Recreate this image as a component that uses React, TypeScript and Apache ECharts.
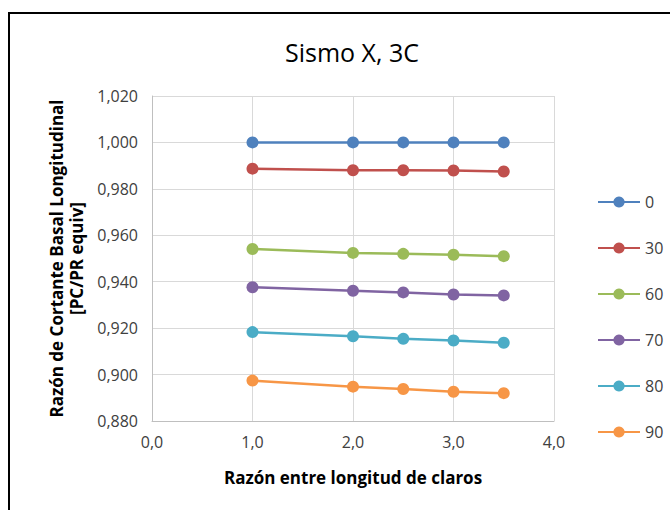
import React, { useEffect, useRef } from "react";
import * as echarts from "echarts";

// Razón entre longitud de claros (x positions)
const claros = [1.0, 2.0, 2.5, 3.0, 3.5];

// Series names (ángulo) and their values
const seriesNames = ["0", "30", "60", "70", "80", "90"];
const s0 = [1.0, 1.0, 1.0, 1.0, 1.0];
const s30 = [0.9887, 0.988, 0.988, 0.9879, 0.9875];
const s60 = [0.9541, 0.9524, 0.952, 0.9516, 0.951];
const s70 = [0.9376, 0.9361, 0.9354, 0.9345, 0.9341];
const s80 = [0.9183, 0.9165, 0.9154, 0.9147, 0.9137];
const s90 = [0.8974, 0.8948, 0.8938, 0.8926, 0.892];
const seriesValues = [s0, s30, s60, s70, s80, s90];

const colors = ["#4F81BD", "#C0504D", "#9BBB59", "#8064A2", "#4BACC6", "#F79646"];

const FONT = "'Open Sans', 'Noto Sans', sans-serif";

export default function App() {
  const ref = useRef<HTMLDivElement>(null);

  useEffect(() => {
    if (!ref.current) return;
    const chart = echarts.init(ref.current, undefined, { renderer: "svg" });
    chart.setOption({
      animation: false,
      backgroundColor: "#ffffff",
      color: colors,
      textStyle: { fontFamily: FONT },
      title: {
        text: "Sismo X, 3C",
        left: 280,
        top: 34,
        textStyle: { fontFamily: FONT, fontSize: 25, fontWeight: "normal", color: "#000000" },
      },
      graphic: [
        {
          type: "rect",
          shape: { x: 9, y: 13, width: 700, height: 600 },
          style: { fill: "none", stroke: "#000000", lineWidth: 2 },
          silent: true,
        },
      ],
      legend: {
        orient: "vertical",
        left: 592,
        top: 189,
        itemWidth: 42,
        itemHeight: 14,
        itemGap: 30,
        textStyle: { fontFamily: FONT, fontSize: 16, color: "#404040" },
        data: seriesNames,
      },
      grid: { left: 152, right: 116, top: 96, bottom: 89 },
      xAxis: {
        type: "value",
        min: 0,
        max: 4,
        interval: 1,
        name: "Razón entre longitud de claros",
        nameLocation: "middle",
        nameGap: 48,
        nameTextStyle: { fontFamily: FONT, fontSize: 17, fontWeight: "bold", color: "#000000" },
        axisLine: { show: true, lineStyle: { color: "#bfbfbf", width: 1 } },
        axisTick: { show: false },
        axisLabel: {
          margin: 13,
          fontFamily: FONT,
          fontSize: 16,
          color: "#404040",
          formatter: (v: number) => v.toFixed(1).replace(".", ","),
        },
        splitLine: { show: true, lineStyle: { color: "#d9d9d9", width: 1 } },
      },
      yAxis: {
        type: "value",
        min: 0.88,
        max: 1.02,
        interval: 0.02,
        name: "Razón de Cortante Basal Longitudinal\n[PC/PR equiv]",
        nameLocation: "middle",
        nameGap: 60,
        nameTextStyle: {
          fontFamily: FONT,
          fontSize: 17,
          fontWeight: "bold",
          color: "#000000",
          lineHeight: 20,
        },
        axisLine: { show: true, lineStyle: { color: "#bfbfbf", width: 1 } },
        axisTick: { show: false },
        axisLabel: {
          margin: 14,
          fontFamily: FONT,
          fontSize: 16,
          color: "#404040",
          formatter: (v: number) => v.toFixed(3).replace(".", ","),
        },
        splitLine: { show: true, lineStyle: { color: "#d9d9d9", width: 1 } },
      },
      series: seriesNames.map((name, i) => ({
        name,
        type: "line",
        data: claros.map((x, j) => [x, seriesValues[i][j]]),
        symbol: "circle",
        symbolSize: 12,
        lineStyle: { width: 2.5, color: colors[i] },
        itemStyle: { color: colors[i] },
      })),
    });
    return () => chart.dispose();
  }, []);

  return (
    <div
      ref={ref}
      style={{ position: "absolute", left: 0, top: 0, width: 670, height: 510 }}
    />
  );
}
